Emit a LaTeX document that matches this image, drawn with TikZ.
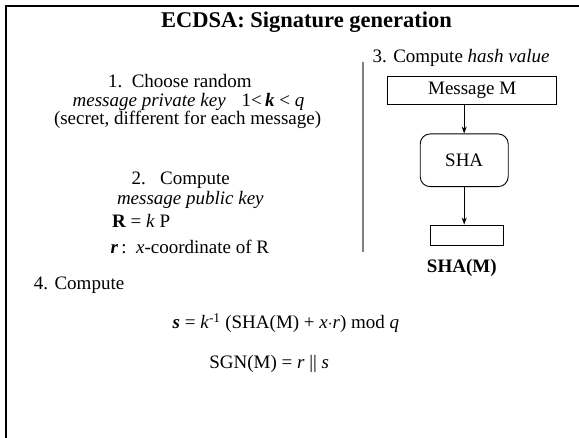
\documentclass[tikz,border=0pt]{standalone}
\usepackage{fontspec}
\setmainfont{Liberation Serif}
\usetikzlibrary{arrows.meta}
\begin{document}
\begin{tikzpicture}[x=1pt,y=-1pt,
  txt/.style={inner sep=0pt,outer sep=0pt,anchor=base west,font=\fontsize{19}{22}\selectfont},
  ttl/.style={inner sep=0pt,anchor=base,font=\fontsize{22.5}{26}\selectfont\bfseries},
  frameline/.style={line width=2.4pt,black},
  sep/.style={line width=1.8pt,black!50},
  box/.style={draw,line width=0.9pt,inner sep=0pt,font=\fontsize{19}{22}\selectfont},
  arr/.style={line width=0.9pt,-{Stealth[length=7pt,width=5pt]}}]
\useasboundingbox (0,0) rectangle (579,438);

% slide frame (top and left edges)
\coordinate (fTL) at (6,6);
\coordinate (fTR) at (579,6);
\coordinate (fBL) at (6,438);
\draw[frameline] (fTR) -- (fTL) -- (fBL);

% heading
\node[ttl] (title) at (306.5,28) {ECDSA: Signature generation};

% step 1
\node[txt] (s1a) at (108,88) {1.\ \ Choose random};
\node[txt] (s1b) at (72.7,107) {\textit{message private key}\hspace{16pt}1<\,\textbf{\textit{k}} < \textit{q}};
\node[txt] (s1c) at (54,125) {(secret, different for each message)};

% step 2
\node[txt] (s2a) at (131.7,185) {2.\ \ \ Compute};
\node[txt] (s2b) at (117,205) {\textit{message public key}};
\node[txt] (s2c) at (112,228) {\textbf{R} = \textit{k} P};
\node[txt] (s2d) at (110.7,254) {\textbf{\textit{r}}\,:\ \ \textit{x}-coordinate of R};

% separator between the columns
\coordinate (sepT) at (363,61.7);
\coordinate (sepB) at (363,251.7);
\draw[sep] (sepT) -- (sepB);

% step 3: hashing
\node[txt] (s3) at (372.7,62.3) {3. Compute \textit{hash value}};
\node[box,minimum width=169pt,minimum height=28pt] (msg) at (472.2,90) {Message M};
\node[box,rounded corners=10pt,minimum width=88pt,minimum height=52.7pt] (sha) at (464.2,160.3) {SHA};
\node[box,minimum width=72.6pt,minimum height=20pt] (hv) at (467,235) {};
\node[txt,anchor=base] (hvl) at (461.8,272.7) {\textbf{SHA(M)}};
\draw[arr] (sha.north |- msg.south) -- (sha.north);
\draw[arr] (sha.south) -- (sha.south |- hv.north);

% step 4
\node[txt] (s4) at (34,290) {4. Compute};
\node[txt] (eqs) at (172.7,328.3) {\textbf{\textit{s}} = \textit{k}\textsuperscript{-1} (SHA(M) + \textit{x}$\cdot$\textit{r}) mod \textit{q}};
\node[txt] (sgn) at (209.3,368.3) {SGN(M) = \textit{r} || \textit{s}};
\end{tikzpicture}
\end{document}
